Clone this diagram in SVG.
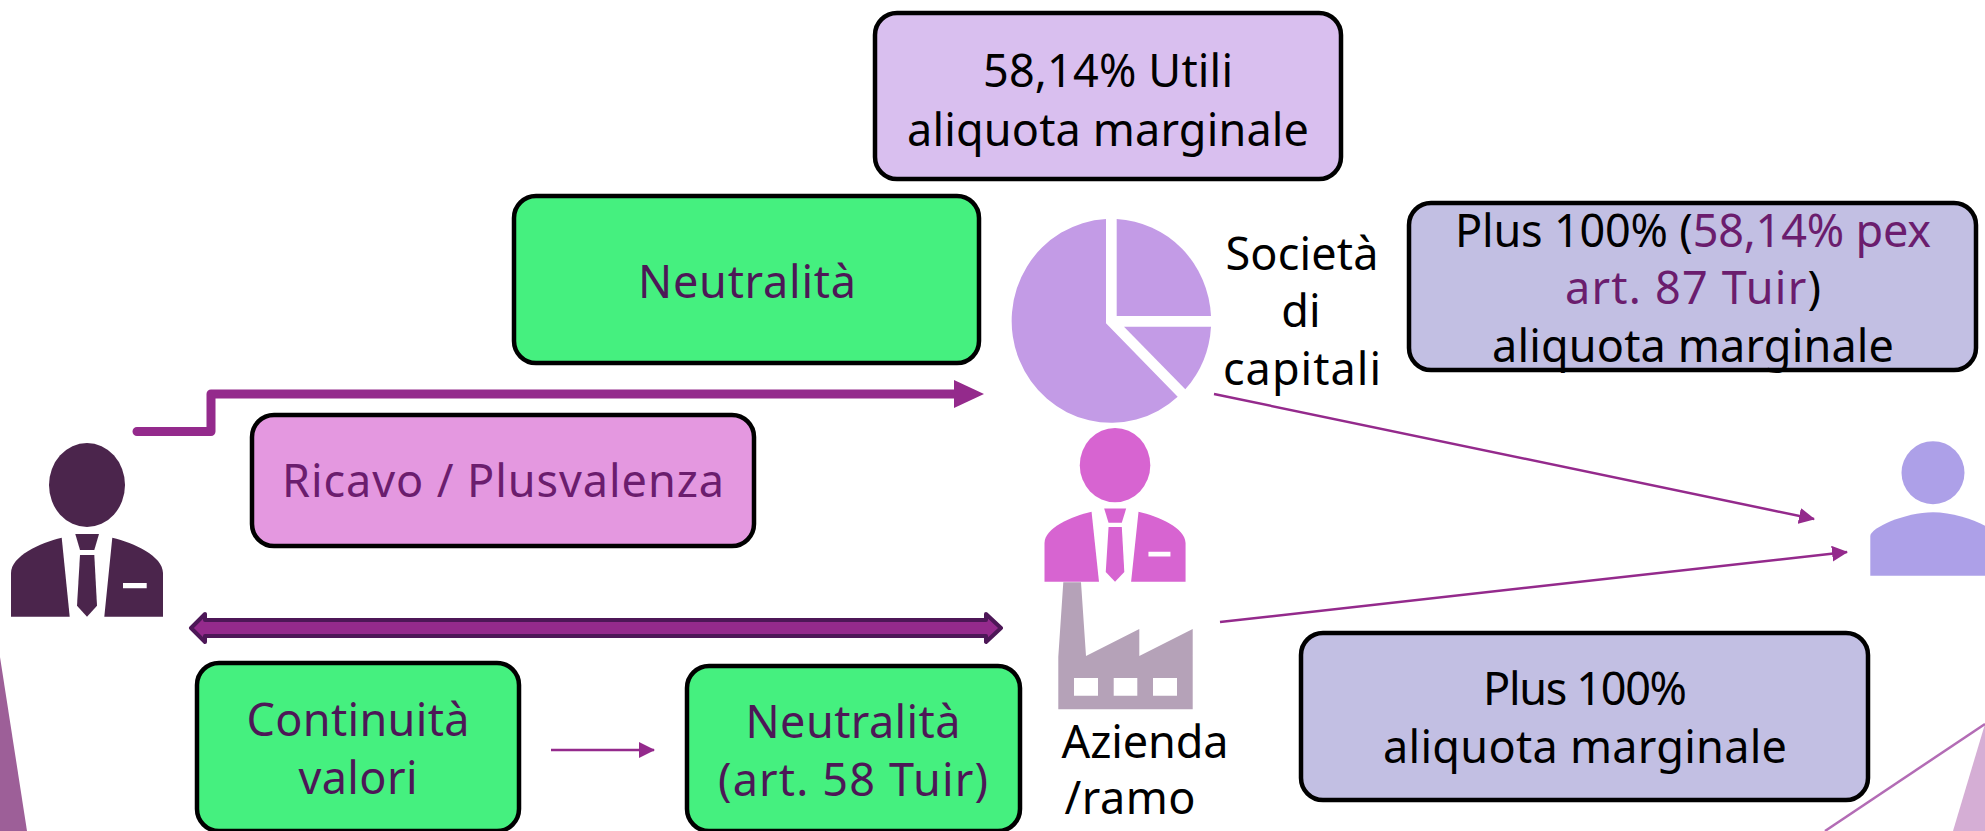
<svg xmlns="http://www.w3.org/2000/svg" xmlns:xlink="http://www.w3.org/1999/xlink" width="1985" height="831" viewBox="0 0 1985 831">
<style>
.box{stroke:#000;stroke-width:4.5}
.t{font-family:"Noto Sans","DejaVu Sans",sans-serif;font-size:45px;text-anchor:middle}
.k{fill:#000}.p{fill:#6b1d6e}.d{fill:#4d1757}
.thin{fill:none;stroke:#942a8c;stroke-width:2.5}
</style>
<defs>
<marker id="a" markerUnits="userSpaceOnUse" markerWidth="16" markerHeight="16" refX="15" refY="8" orient="auto"><path d="M0 0L16 8L0 16Z" fill="#942a8c"/></marker>
<g id="suit">
<ellipse cx="87" cy="485" rx="38" ry="42"/>
<path d="M61.7 537.7L69.7 616.7H11V573C11 556 40 543 61.7 537.7Z"/>
<path d="M112.3 537.7L104.3 616.7H163V573C163 556 134 543 112.3 537.7ZM123 583H146.7V588.3H123Z" fill-rule="evenodd"/>
<path d="M75.3 534H99L94.3 550H80Z"/>
<path d="M80 555H94.3L97 605.7L87 616.7L77 605.7Z"/>
</g>
</defs>
<g id="decor">
<path d="M0 657L27 831H0Z" fill="#9d5f98"/>
<path d="M1953 831L1985 724V831Z" fill="#d5aed5"/>
<path d="M1825 831L1985 724" fill="none" stroke="#b36cb5" stroke-width="2.5"/>
</g>
<g id="connectors">
<path d="M137 431.5H211V394H960" fill="none" stroke="#942a8c" stroke-width="9" stroke-linecap="round" stroke-linejoin="round"/>
<path d="M954 380L984 394L954 408Z" fill="#942a8c"/>
<path d="M191 628L205 614V620H986V614L1001 628L986 642V636H205V642Z" fill="#942a8c" stroke="#4d1757" stroke-width="4" stroke-linejoin="round"/>
<path class="thin" d="M1214 394L1814 519" marker-end="url(#a)"/>
<path class="thin" d="M1220 622L1847 552" marker-end="url(#a)"/>
<path class="thin" d="M551 750H654" marker-end="url(#a)"/>
</g>
<g id="person-left" fill="#4b254c"><use xlink:href="#suit" href="#suit"/></g>
<g id="person-middle" fill="#d764d1"><use xlink:href="#suit" href="#suit" transform="translate(1034.3 35.9) scale(.928 .885)"/></g>
<g id="person-right" fill="#ada0e8">
<circle cx="1933" cy="472.7" r="31.5"/>
<path d="M1870.3 575.7V536C1870.3 528 1905 512.3 1933 512.3S1996 528 1996 536V575.7Z"/>
</g>
<g id="pie" fill="#c39be6">
<path d="M1106 219A99.5 102 0 1 0 1177.7 396.7L1106 323.3Z"/>
<path d="M1116.7 219A99.5 102 0 0 1 1211 316H1116.7Z"/>
<path d="M1124 326.7H1211A99.5 102 0 0 1 1185.3 389.3Z"/>
</g>
<g id="factory" fill="#b5a2b8">
<path fill-rule="evenodd" d="M1063.3 582.3H1081L1086 656L1139.3 629V656L1192.7 629V709.3H1058.3V656.7ZM1074 678V695.7H1098V678ZM1113.7 678V695.7H1137.3V678ZM1153 678V695.7H1177V678Z"/>
</g>
<g id="node-utili">
<rect class="box" x="875" y="13" width="466" height="166" rx="22" fill="#d9bfef"/>
<text class="t k" x="1108" y="87" textLength="250">58,14% Utili</text>
<text class="t k" x="1108" y="146" textLength="402">aliquota marginale</text>
</g>
<g id="node-neutralita">
<rect class="box" x="514" y="196" width="465" height="167" rx="22" fill="#45f07f"/>
<text class="t d" x="747" y="298" textLength="218">Neutralità</text>
</g>
<g id="node-plus-top">
<rect class="box" x="1409" y="203" width="567" height="167" rx="22" fill="#c2bfe3"/>
<text class="t k" x="1693" y="247" textLength="476"><tspan>Plus 100% (</tspan><tspan class="p">58,14% pex</tspan></text>
<text class="t k" x="1693" y="304" textLength="256"><tspan class="p">art. 87 Tuir</tspan>)</text>
<text class="t k" x="1693" y="362" textLength="402">aliquota marginale</text>
</g>
<g id="node-ricavo">
<rect class="box" x="252" y="415" width="502" height="131" rx="22" fill="#e498e0"/>
<text class="t p" x="503" y="497" textLength="442">Ricavo / Plusvalenza</text>
</g>
<g id="node-continuita">
<rect class="box" x="197" y="663" width="322" height="168" rx="22" fill="#45f07f"/>
<text class="t d" x="358" y="736" textLength="223">Continuità</text>
<text class="t d" x="358" y="794" textLength="119">valori</text>
</g>
<g id="node-neutralita-58">
<rect class="box" x="687" y="666" width="333" height="165" rx="22" fill="#45f07f"/>
<text class="t d" x="853" y="738" textLength="215">Neutralità</text>
<text class="t d" x="853" y="796" textLength="270">(art. 58 Tuir)</text>
</g>
<g id="node-plus-bottom">
<rect class="box" x="1301" y="633" width="567" height="167" rx="22" fill="#c2bfe3"/>
<text class="t k" x="1585" y="705" textLength="204">Plus 100%</text>
<text class="t k" x="1585" y="763" textLength="404">aliquota marginale</text>
</g>
<g id="label-societa">
<text class="t k" x="1302" y="270" textLength="153">Società</text>
<text class="t k" x="1301" y="327">di</text>
<text class="t k" x="1302" y="385" textLength="158">capitali</text>
</g>
<g id="label-azienda">
<text class="t k" x="1145" y="758" textLength="167">Azienda</text>
<text class="t k" x="1130" y="814" textLength="131">/ramo</text>
</g>
</svg>
